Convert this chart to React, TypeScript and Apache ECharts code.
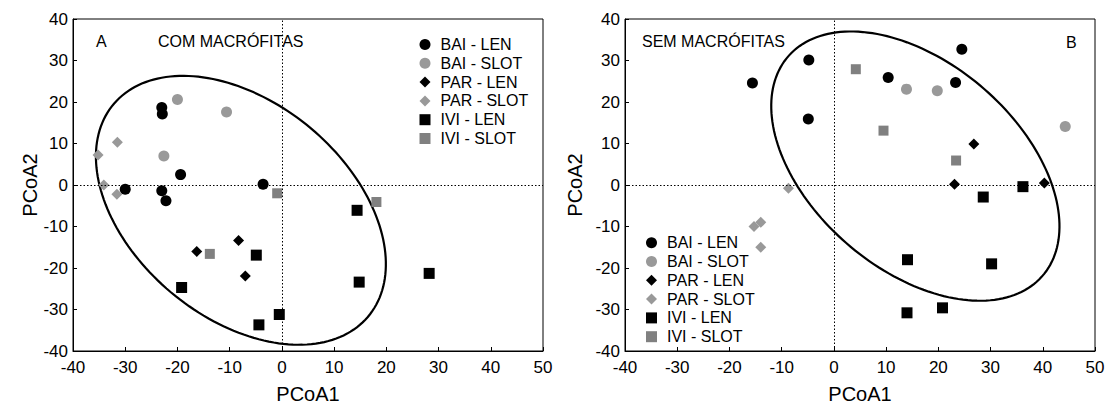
import React, { useEffect, useRef } from "react";
import * as echarts from "echarts";

const FONT = "'Liberation Sans', Arial, sans-serif";

const SERIES_NAMES = ["BAI - LEN", "BAI - SLOT", "PAR - LEN", "PAR - SLOT", "IVI - LEN", "IVI - SLOT"];
const SYMBOLS = ["circle", "circle", "diamond", "diamond", "rect", "rect"];
const COLORS = ["#000000", "#999999", "#000000", "#999999", "#000000", "#808080"];
const SIZES = [11, 11, 11, 11, 11, 10];

// Panel A (COM MACRÓFITAS)
const A_BAI_LEN = [[-30, -1], [-23, 18.7], [-22.9, 17.1], [-23, -1.4], [-22.2, -3.8], [-19.4, 2.5], [-3.6, 0.2]];
const A_BAI_SLOT = [[-20, 20.6], [-10.6, 17.6], [-22.6, 7.0]];
const A_PAR_LEN = [[-16.3, -16], [-8.3, -13.4], [-7, -21.9]];
const A_PAR_SLOT = [[-35.2, 7.2], [-31.5, 10.3], [-34.1, 0], [-31.6, -2.2]];
const A_IVI_LEN = [[-19.2, -24.7], [-4.9, -16.9], [-4.4, -33.7], [-0.5, -31.2], [14.4, -6.1], [14.8, -23.4], [28.2, -21.3]];
const A_IVI_SLOT = [[-13.8, -16.6], [-0.9, -2.0], [18.1, -4.1]];
// ellipse: [centerX, centerY, semiMajor, semiMinor, angleDeg]
const A_ELLIPSE = [[-7.85, -6.1, 36.0, 22.9, -55.6]];

// Panel B (SEM MACRÓFITAS)
const B_BAI_LEN = [[-15.6, 24.6], [-4.8, 30.1], [-4.9, 15.9], [24.5, 32.7], [10.4, 25.9], [23.3, 24.7]];
const B_BAI_SLOT = [[13.9, 23.1], [19.8, 22.7], [44.3, 14.1]];
const B_PAR_LEN = [[26.8, 9.9], [23.1, 0.2], [40.3, 0.5]];
const B_PAR_SLOT = [[-8.7, -0.8], [-15.3, -10], [-14, -9], [-14, -15]];
const B_IVI_LEN = [[36.2, -0.4], [28.6, -2.9], [14.1, -18], [30.2, -19], [14, -30.8], [20.8, -29.6]];
const B_IVI_SLOT = [[4.2, 27.9], [9.5, 13.1], [23.4, 5.9]];
const B_ELLIPSE = [[15.6, 4.55, 36.5, 21.95, -55.0]];

const X_MIN = -40, X_MAX = 50, X_STEP = 10;
const Y_MIN = -40, Y_MAX = 40, Y_STEP = 10;

const A_DATA = [A_BAI_LEN, A_BAI_SLOT, A_PAR_LEN, A_PAR_SLOT, A_IVI_LEN, A_IVI_SLOT];
const B_DATA = [B_BAI_LEN, B_BAI_SLOT, B_PAR_LEN, B_PAR_SLOT, B_IVI_LEN, B_IVI_SLOT];

function ellipseRender(params: any, api: any) {
  const cx = api.value(0), cy = api.value(1), a = api.value(2), b = api.value(3);
  const th = (api.value(4) * Math.PI) / 180;
  const pts: number[][] = [];
  for (let d = 0; d <= 360; d += 2) {
    const t = (d * Math.PI) / 180;
    const x = cx + a * Math.cos(th) * Math.cos(t) - b * Math.sin(th) * Math.sin(t);
    const y = cy + a * Math.sin(th) * Math.cos(t) + b * Math.cos(th) * Math.sin(t);
    pts.push(api.coord([x, y]));
  }
  return {
    type: "polyline",
    shape: { points: pts },
    style: { stroke: "#000", fill: null, lineWidth: 2.2 },
  };
}

function axisPair(gridIndex: number, yNameGap: number) {
  const lbl = { color: "#000", fontSize: 17, fontFamily: FONT };
  const x = {
    type: "value", gridIndex, min: X_MIN, max: X_MAX, interval: X_STEP,
    name: "PCoA1", nameLocation: "middle", nameGap: 33,
    nameTextStyle: { color: "#000", fontSize: 20, fontFamily: FONT },
    axisLine: { show: true, onZero: false, lineStyle: { color: "#000", width: 1 } },
    axisTick: { show: true, inside: true, length: 4, lineStyle: { color: "#000" } },
    axisLabel: { ...lbl, margin: 8 },
    splitLine: { show: false },
  };
  const y = {
    type: "value", gridIndex, min: Y_MIN, max: Y_MAX, interval: Y_STEP,
    name: "PCoA2", nameLocation: "middle", nameGap: yNameGap,
    nameTextStyle: { color: "#000", fontSize: 20, fontFamily: FONT },
    axisLine: { show: true, onZero: false, lineStyle: { color: "#000", width: 1 } },
    axisTick: { show: true, inside: true, length: 4, lineStyle: { color: "#000" } },
    axisLabel: { ...lbl, margin: 5 },
    splitLine: { show: false },
  };
  return { x, y };
}

function panelSeries(idx: number, data: number[][][], ellipse: number[][]) {
  const out: any[] = [
    {
      type: "custom", name: "ellipse" + idx, xAxisIndex: idx, yAxisIndex: idx,
      renderItem: ellipseRender, data: ellipse, z: 1, silent: true,
      dimensions: ["cx", "cy", "a", "b", "ang"],
      encode: { x: [], y: [] },
      markLine: {
        silent: true, symbol: ["none", "none"], label: { show: false },
        lineStyle: { color: "#000", type: [1.5, 2], width: 1 },
        data: [{ xAxis: 0 }, { yAxis: 0 }],
        animation: false,
      },
    },
  ];
  data.forEach((d, i) => {
    out.push({
      type: "scatter", name: SERIES_NAMES[i], xAxisIndex: idx, yAxisIndex: idx,
      data: d, symbol: SYMBOLS[i], symbolSize: SIZES[i],
      itemStyle: { color: COLORS[i], opacity: 1 }, z: 3,
    });
  });
  return out;
}

export default function App() {
  const ref = useRef<HTMLDivElement>(null);
  useEffect(() => {
    if (!ref.current) return;
    const chart = echarts.init(ref.current, null, { renderer: "svg" });
    const pA = axisPair(0, 33);
    const pB = axisPair(1, 40);
    const legendBase = {
      data: SERIES_NAMES, orient: "vertical", itemWidth: 11, itemHeight: 11, itemGap: 2.8,
      selectedMode: false,
      textStyle: { color: "#000", fontSize: 16, fontFamily: FONT, lineHeight: 16, padding: [0, 0, 0, 5] },
    };
    const txt = (text: string, x: number, y: number) => ({
      type: "text", x, y,
      style: { text, fontSize: 16, fontFamily: FONT, fill: "#000", verticalAlign: "middle" },
    });
    chart.setOption({
      animation: false,
      backgroundColor: "#fff",
      grid: [
        { left: 73, top: 19, width: 470, height: 332, show: true, borderColor: "#000", borderWidth: 1, backgroundColor: "transparent" },
        { left: 625, top: 19, width: 470, height: 332, show: true, borderColor: "#000", borderWidth: 1, backgroundColor: "transparent" },
      ],
      xAxis: [pA.x, pB.x],
      yAxis: [pA.y, pB.y],
      legend: [
        { ...legendBase, left: 414.5, top: 31.5 },
        { ...legendBase, left: 641, top: 229.7 },
      ],
      graphic: [
        txt("A", 96, 41),
        txt("COM MACRÓFITAS", 158, 41),
        txt("SEM MACRÓFITAS", 642, 41),
        txt("B", 1066, 42),
      ],
      series: [...panelSeries(0, A_DATA, A_ELLIPSE), ...panelSeries(1, B_DATA, B_ELLIPSE)],
    });
    return () => chart.dispose();
  }, []);
  return <div ref={ref} style={{ position: "absolute", left: 0, top: 0, width: 1110, height: 410 }} />;
}
